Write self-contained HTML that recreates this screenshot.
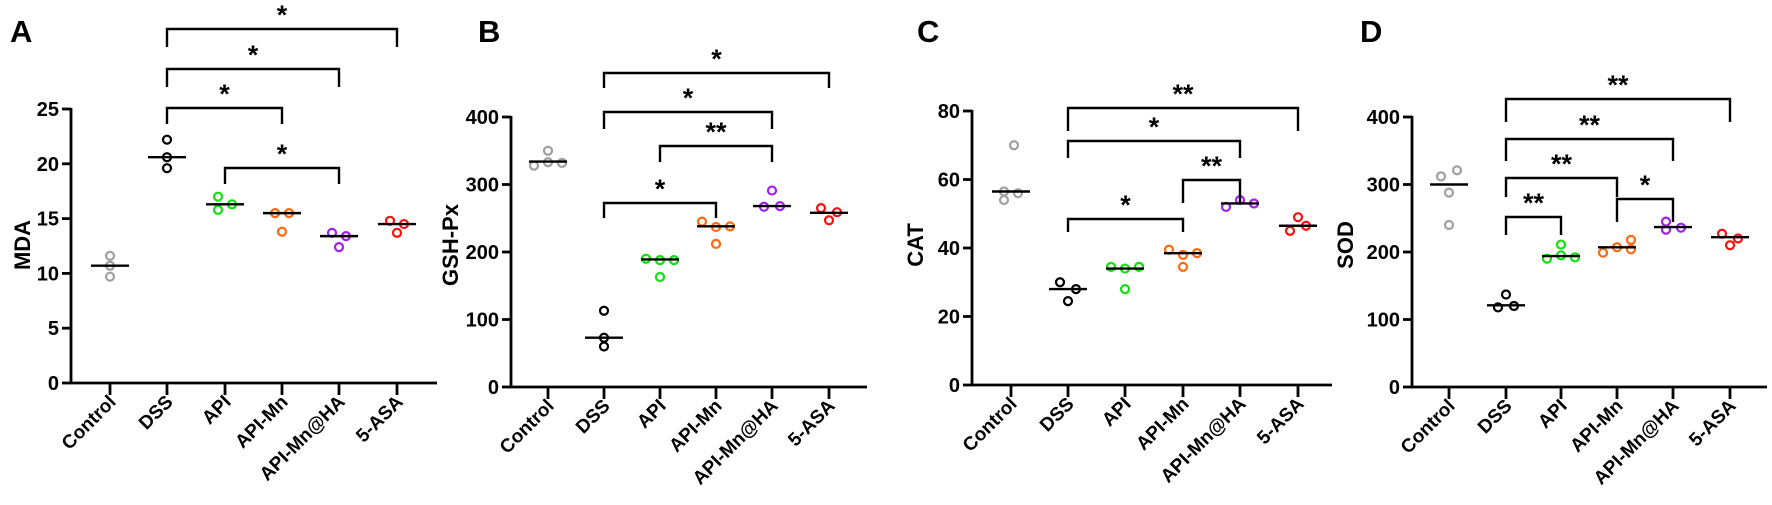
<!DOCTYPE html>
<html><head><meta charset="utf-8"><style>
html,body{margin:0;padding:0;background:#fff;}
svg{display:block;font-family:"Liberation Sans",Arial,sans-serif;font-weight:bold;}
</style></head><body>
<svg id="s" width="1772" height="505" xmlns="http://www.w3.org/2000/svg"></svg>
<script>
const S=document.getElementById('s');let h='';
const cols=['#a0a0a0','#000','#10e010','#ff6a10','#a020f0','#ff1010'];
const names=['Control','DSS','API','API-Mn','API-Mn@HA','5-ASA'];
const P=[
{L:'A',lx:10,ax:71,xend:437,ytop:109,y0:383,max:25,step:5,title:'MDA',tx:22,xs:[110,167,225,282,339,397],
 pts:[[[0,11.6],[0,10.7],[0,9.7]],[[0,22.2],[0,20.6],[0,19.6]],[[-7,17.0],[-7,15.8],[7,16.3]],[[-7,15.5],[7,15.5],[0,13.8]],[[-7,13.7],[7,13.4],[0,12.4]],[[-7,14.8],[7,14.5],[0,13.7]]],
 med:[10.7,20.6,16.3,15.5,13.4,14.5],
 br:[[1,5,29,47,'*'],[1,4,69,87,'*'],[1,3,108,124,'*'],[2,4,168,184,'*']]},
{L:'B',lx:478,ax:511,xend:867,ytop:117,y0:387,max:400,step:100,title:'GSH-Px',tx:450,xs:[548,604,660,716,772,829],
 pts:[[[0,350],[-14,328],[0,333],[14,332]],[[0,113],[0,73],[0,60]],[[-14,190],[0,188],[14,188],[0,163]],[[-14,245],[0,237],[14,238],[0,212]],[[0,291],[-8,267],[8,268]],[[-8,265],[8,259],[0,247]]],
 med:[334,73,189,238,268,258],
 br:[[1,5,73,88,'*'],[1,4,112,129,'*'],[2,4,146,162,'**'],[1,3,203,218,'*']]},
{L:'C',lx:917,ax:972,xend:1332,ytop:111,y0:385,max:80,step:20,title:'CAT',tx:915,xs:[1011,1068,1125,1183,1240,1298],
 pts:[[[3,70],[-7,56.5],[7,56],[-7,54]],[[-8,30],[8,28],[0,24.5]],[[-14,34.5],[0,34],[14,34.5],[0,28]],[[-14,39.5],[0,38],[14,38.5],[0,34.5]],[[-14,52],[0,54],[14,53]],[[0,49],[-8,45],[8,46.5]]],
 med:[56.5,28,34,38.5,53,46.5],
 br:[[1,5,108,131,'**'],[1,4,141,158,'*'],[3,4,180,203,'**'],[1,3,219,232,'*']]},
{L:'D',lx:1360,ax:1412,xend:1767,ytop:117,y0:387,max:400,step:100,title:'SOD',tx:1345,xs:[1449,1506,1561,1617,1673,1730],
 pts:[[[-8,312],[8,321],[0,288],[0,240]],[[0,137],[-8,118],[8,120]],[[0,211],[-14,190],[0,195],[14,192]],[[-14,199],[0,207],[14,218],[14,204]],[[-7,245],[-7,233],[8,236]],[[-8,227],[8,220],[0,210]]],
 med:[300,121,194,207,237,222],
 br:[[1,5,99,122,'**'],[1,4,139,161,'**'],[1,3,178,197,'**'],[3,4,199,222,'*'],[1,2,217,235,'**']]}
];
for(const p of P){
 const Y=v=>p.y0-(p.y0-p.ytop)*v/p.max;
 h+=`<text x="${p.lx}" y="42" font-size="31">${p.L}</text>`;
 h+=`<path d="M${p.ax} ${p.ytop-1}V${p.y0}H${p.xend}" fill="none" stroke="#000" stroke-width="2.8"/>`;
 for(let v=0;v<=p.max;v+=p.step){const y=Y(v);
  h+=`<line x1="${p.ax-9}" x2="${p.ax}" y1="${y}" y2="${y}" stroke="#000" stroke-width="2.8"/>`;
  h+=`<text x="${p.ax-12}" y="${y+7}" font-size="20" text-anchor="end">${v}</text>`;}
 h+=`<text transform="translate(${p.tx+8},245) rotate(-90)" font-size="22" text-anchor="middle">${p.title}</text>`;
 p.xs.forEach((x,i)=>{
  h+=`<line x1="${x}" x2="${x}" y1="${p.y0}" y2="${p.y0+12}" stroke="#000" stroke-width="2.8"/>`;
  h+=`<text transform="translate(${x+7},${p.y0+20}) rotate(-45)" font-size="19" text-anchor="end">${names[i]}</text>`;
  for(const [dx,v] of p.pts[i]) h+=`<circle cx="${x+dx}" cy="${Y(v)}" r="4" fill="none" stroke="${cols[i]}" stroke-width="2.2"/>`;
  const my=Y(p.med[i]);
  h+=`<line x1="${x-19}" x2="${x+19}" y1="${my}" y2="${my}" stroke="#000" stroke-width="2.4"/>`;
 });
 for(const [a,b,y,yd,st] of p.br){const x1=p.xs[a],x2=p.xs[b];
  h+=`<path d="M${x1} ${yd}V${y}H${x2}V${yd}" fill="none" stroke="#000" stroke-width="2.4"/>`;
  h+=`<text x="${(x1+x2)/2}" y="${y-5}" font-size="27" text-anchor="middle">${st}</text>`;}
}
S.innerHTML=h;
</script>
</body></html>
